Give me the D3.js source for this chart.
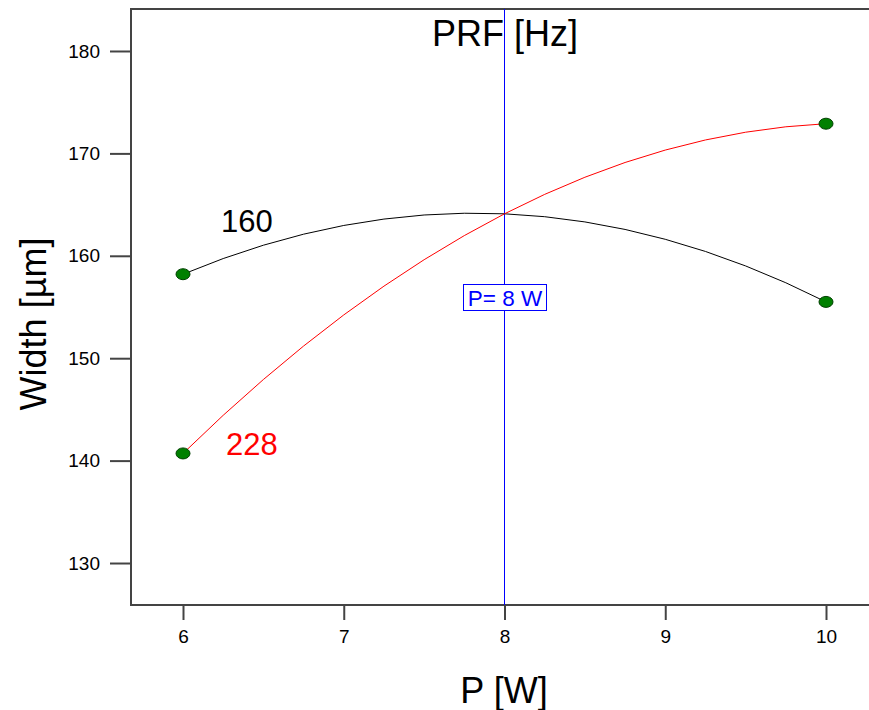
<!DOCTYPE html>
<html>
<head>
<meta charset="utf-8">
<script src="https://cdn.jsdelivr.net/npm/d3@7"></script>
<style>
  body { margin: 0; background: #fff; }
  svg { display: block; font-family: Arial, "Liberation Sans", sans-serif; }
</style>
</head>
<body>
<div id="chart"></div>
<script>
// Width vs power for two PRF levels, P held at 8 W
const powerLevels = [6, 8, 10];
const prfSeries = ["160", "228"];
const width160 = [158.2, 164.1, 155.5];
const width228 = [140.7, 164.1, 172.9];
const xTicks = [6, 7, 8, 9, 10];
const yTicks = [130, 140, 150, 160, 170, 180];
const markerP = 8;

const svg = d3.select("#chart")
  .append("svg")
  .attr("width", 869)
  .attr("height", 710);

const plotL = 131, plotT = 9, plotR = 870, plotB = 605;

const x = d3.scaleLinear().domain([5.6765, 10.2737]).range([plotL, plotR]);
const y = d3.scaleLinear().domain([125.9, 184.1]).range([plotB, plotT]);

// frame
svg.append("rect")
  .attr("x", plotL)
  .attr("y", plotT)
  .attr("width", plotR - plotL + 4)
  .attr("height", plotB - plotT)
  .attr("fill", "none")
  .attr("stroke", "#444")
  .attr("stroke-width", 2);

const xAxis = svg.append("g")
  .attr("transform", `translate(0,${plotB})`)
  .call(d3.axisBottom(x).tickValues(xTicks).tickSize(15).tickPadding(10).tickFormat(d3.format("d")));
xAxis.select(".domain").remove();
xAxis.selectAll("line").attr("stroke", "#444").attr("stroke-width", 2);
xAxis.selectAll("text").style("font-size", "19px").attr("fill", "#000");

const yAxis = svg.append("g")
  .attr("transform", `translate(${plotL},0)`)
  .call(d3.axisLeft(y).tickValues(yTicks).tickSize(21).tickPadding(10).tickFormat(d3.format("d")));
yAxis.select(".domain").remove();
yAxis.selectAll("line").attr("stroke", "#444").attr("stroke-width", 2);
yAxis.selectAll("text").style("font-size", "19px").attr("fill", "#000");

// vertical marker at P = 8 W
svg.append("line")
  .attr("x1", Math.floor(x(markerP)) + 0.5).attr("x2", Math.floor(x(markerP)) + 0.5)
  .attr("y1", plotT).attr("y2", plotB)
  .attr("stroke", "#0000ff")
  .attr("stroke-width", 1)
  .attr("shape-rendering", "crispEdges");

// parabola through the three points as a quadratic bezier
function quadPath(vals) {
  const p = d3.path();
  const cy = 2 * vals[1] - (vals[0] + vals[2]) / 2;
  p.moveTo(x(powerLevels[0]), y(vals[0]));
  p.quadraticCurveTo(x(powerLevels[1]), y(cy), x(powerLevels[2]), y(vals[2]));
  return p.toString();
}

const series = [
  {name: prfSeries[0], values: width160, color: "#000000"},
  {name: prfSeries[1], values: width228, color: "#ff0000"}
];

svg.selectAll(".curve")
  .data(series)
  .enter()
  .append("path")
  .attr("class", "curve")
  .attr("d", d => quadPath(d.values))
  .attr("fill", "none")
  .attr("stroke", d => d.color)
  .attr("stroke-width", 1);

// end point markers
const ends = [];
series.forEach(s => {
  [0, 2].forEach(i => ends.push({p: powerLevels[i], w: s.values[i]}));
});
svg.selectAll(".pt")
  .data(ends)
  .enter()
  .append("ellipse")
  .attr("class", "pt")
  .attr("cx", d => x(d.p))
  .attr("cy", d => y(d.w))
  .attr("rx", 7)
  .attr("ry", 5.5)
  .attr("fill", "#008000")
  .attr("stroke", "#004000")
  .attr("stroke-width", 1);

// series labels
svg.append("text")
  .attr("x", 221).attr("y", 232)
  .text(prfSeries[0])
  .attr("fill", "#000")
  .style("font-size", "31px");

svg.append("text")
  .attr("x", 226).attr("y", 455)
  .text(prfSeries[1])
  .attr("fill", "#ff0000")
  .style("font-size", "31px");

// P = 8 W box
const boxG = svg.append("g");
boxG.append("rect")
  .attr("x", 463.5).attr("y", 284.5)
  .attr("width", 83).attr("height", 26)
  .attr("fill", "#fff")
  .attr("stroke", "#0000ff")
  .attr("stroke-width", 1);
boxG.append("text")
  .attr("x", 505).attr("y", 306)
  .attr("text-anchor", "middle")
  .text("P= 8 W")
  .attr("fill", "#0000ff")
  .style("font-size", "22.5px");

// titles
svg.append("text")
  .attr("x", 432).attr("y", 46)
  .text("PRF [Hz]")
  .attr("fill", "#000")
  .style("font-size", "36px");

svg.append("text")
  .attr("x", 504).attr("y", 703)
  .attr("text-anchor", "middle")
  .text("P [W]")
  .attr("fill", "#000")
  .style("font-size", "36px");

svg.append("text")
  .attr("transform", "translate(46,324) rotate(-90)")
  .attr("text-anchor", "middle")
  .text("Width [µm]")
  .attr("fill", "#000")
  .style("font-size", "36px");
</script>
</body>
</html>
